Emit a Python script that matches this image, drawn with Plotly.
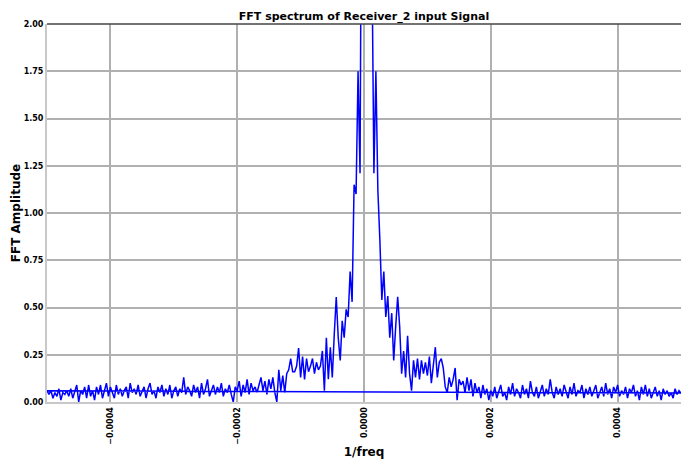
import numpy as np
import plotly.graph_objects as go

# Frequency bin spacing and bins (FFT order: positive bins then negative bins)
freq_step = 3.125e-6
n_pos = 161
n_neg = 160

# FFT amplitude, positive-frequency bins (0 .. +0.0005)
amp_pos = [
    5.0, 6.0, 5.0, 3.5, 2.5, 1.21, 1.75, 1.12, 0.86, 0.54, 0.69, 0.45, 0.56, 0.34, 0.47,
    0.22, 0.40, 0.556, 0.40, 0.15, 0.27, 0.13, 0.35, 0.15, 0.06, 0.22, 0.13, 0.23, 0.12, 0.22,
    0.15, 0.21, 0.14, 0.24, 0.10, 0.19, 0.29, 0.13, 0.21, 0.23, 0.18, 0.08, 0.05, 0.13, 0.08,
    0.12, 0.18, 0.01, 0.12, 0.09, 0.11,
    0.05, 0.13, 0.06, 0.12, 0.03, 0.10, 0.05, 0.08, 0.02, 0.09, 0.04, 0.07, 0.01, 0.06, 0.03,
    0.08, 0.02, 0.06, 0.09, 0.03, 0.05, 0.01, 0.08, 0.04, 0.10, 0.03, 0.07, 0.05, 0.02, 0.09,
    0.04, 0.07, 0.02, 0.11, 0.05, 0.03, 0.08, 0.02, 0.06, 0.09, 0.03, 0.07, 0.04, 0.12, 0.05,
    0.02, 0.08, 0.04, 0.07, 0.03, 0.09, 0.05, 0.02, 0.08, 0.04, 0.10, 0.03, 0.06, 0.05, 0.09,
    0.02, 0.07, 0.04, 0.08, 0.03, 0.06, 0.09, 0.02, 0.05, 0.08, 0.03, 0.10, 0.04, 0.07, 0.02,
    0.08, 0.05, 0.09, 0.03, 0.06, 0.04, 0.08, 0.02, 0.07, 0.05, 0.09, 0.03, 0.06, 0.01, 0.08,
    0.04, 0.09, 0.03, 0.07, 0.02, 0.05, 0.08, 0.03, 0.06, 0.01, 0.07, 0.04, 0.06, 0.03, 0.05,
    0.02, 0.07, 0.04, 0.06, 0.047,
]

# FFT amplitude, negative-frequency bins (-0.0005 .. -step)
amp_neg = [
    0.06, 0.04, 0.06, 0.02, 0.05, 0.03, 0.07, 0.01, 0.05, 0.04, 0.06, 0.03, 0.07, 0.02, 0.05,
    0.09, 0.00, 0.06, 0.04, 0.08, 0.02, 0.09, 0.03, 0.06, 0.01, 0.08, 0.04, 0.09, 0.02, 0.06,
    0.10, 0.03, 0.08, 0.05, 0.02, 0.09, 0.04, 0.07, 0.03, 0.06, 0.08, 0.02, 0.10, 0.05, 0.07,
    0.04, 0.09, 0.03, 0.06, 0.08, 0.02, 0.07, 0.10, 0.04, 0.06, 0.02, 0.08, 0.05, 0.09, 0.03,
    0.07, 0.04, 0.09, 0.02, 0.06, 0.08, 0.03, 0.07, 0.05, 0.13, 0.04, 0.08, 0.06, 0.03, 0.09,
    0.05, 0.08, 0.02, 0.10, 0.04, 0.07, 0.12, 0.03, 0.06, 0.09, 0.04, 0.08, 0.05, 0.10, 0.03,
    0.07, 0.05, 0.09, 0.04, 0.00, 0.08, 0.06, 0.11, 0.03, 0.09, 0.05, 0.12, 0.04, 0.10, 0.06,
    0.08, 0.05, 0.09, 0.13, 0.06, 0.11, 0.04, 0.12, 0.07, 0.13, 0.05, 0.00, 0.17, 0.06, 0.14,
    0.05, 0.15, 0.17, 0.23, 0.16, 0.16, 0.19, 0.285, 0.13, 0.24, 0.12, 0.23, 0.16, 0.19, 0.23,
    0.15, 0.21, 0.17, 0.19, 0.27, 0.06, 0.34, 0.12, 0.29, 0.13, 0.36, 0.556, 0.34, 0.22, 0.43,
    0.34, 0.49, 0.45, 0.69, 0.53, 1.15, 1.10, 1.75, 1.21, 3.5,
]

title_text = "FFT spectrum of Receiver_2 input Signal"
x_label = "1/freq"
y_label = "FFT Amplitude"
x_ticks = [-0.0004, -0.0002, 0.0, 0.0002, 0.0004]
y_ticks = [0.0, 0.25, 0.5, 0.75, 1.0, 1.25, 1.5, 1.75, 2.0]

freq_pos = np.arange(n_pos) * freq_step
freq_neg = (np.arange(n_neg) - n_neg) * freq_step
freqs = np.concatenate([freq_pos, freq_neg])
amps = np.array(amp_pos + amp_neg)

bold = dict(family="DejaVu Sans", weight="bold", color="black")

fig = go.Figure()
fig.add_trace(go.Scatter(x=freqs, y=amps, mode="lines",
                         line=dict(color="#0000ff", width=1.5), showlegend=False))

fig.update_layout(
    width=681, height=459,
    margin=dict(l=47, r=0, t=24, b=57),
    paper_bgcolor="white", plot_bgcolor="white",
    title=dict(text=title_text, x=0.5345, xanchor="center", y=1 - 16 / 459,
               yanchor="middle", font=dict(size=11, **bold)),
)
fig.update_xaxes(
    range=[-0.0005, 0.0005], tickvals=x_ticks, tickformat=".4f", tickangle=-90,
    tickfont=dict(size=8, **bold), showgrid=True, gridcolor="#b0b0b0", gridwidth=2,
    zeroline=False, showline=True, linecolor="#c8c8c8", linewidth=2, ticks="",
    automargin=False,
    title=dict(text=x_label, font=dict(size=12, **bold), standoff=14),
)
fig.update_yaxes(
    range=[0, 2], tickvals=y_ticks, tickformat=".2f",
    tickfont=dict(size=8, **bold), showgrid=True, gridcolor="#b0b0b0", gridwidth=2,
    zeroline=False, showline=True, linecolor="#c8c8c8", linewidth=2, ticks="",
    automargin=False,
    title=dict(text=y_label, font=dict(size=12, **bold), standoff=0),
)
fig.add_shape(type="line", xref="paper", yref="paper", x0=0, x1=1, y0=1, y1=1,
              line=dict(color="#444444", width=1.5))

fig.write_html("out.html")
